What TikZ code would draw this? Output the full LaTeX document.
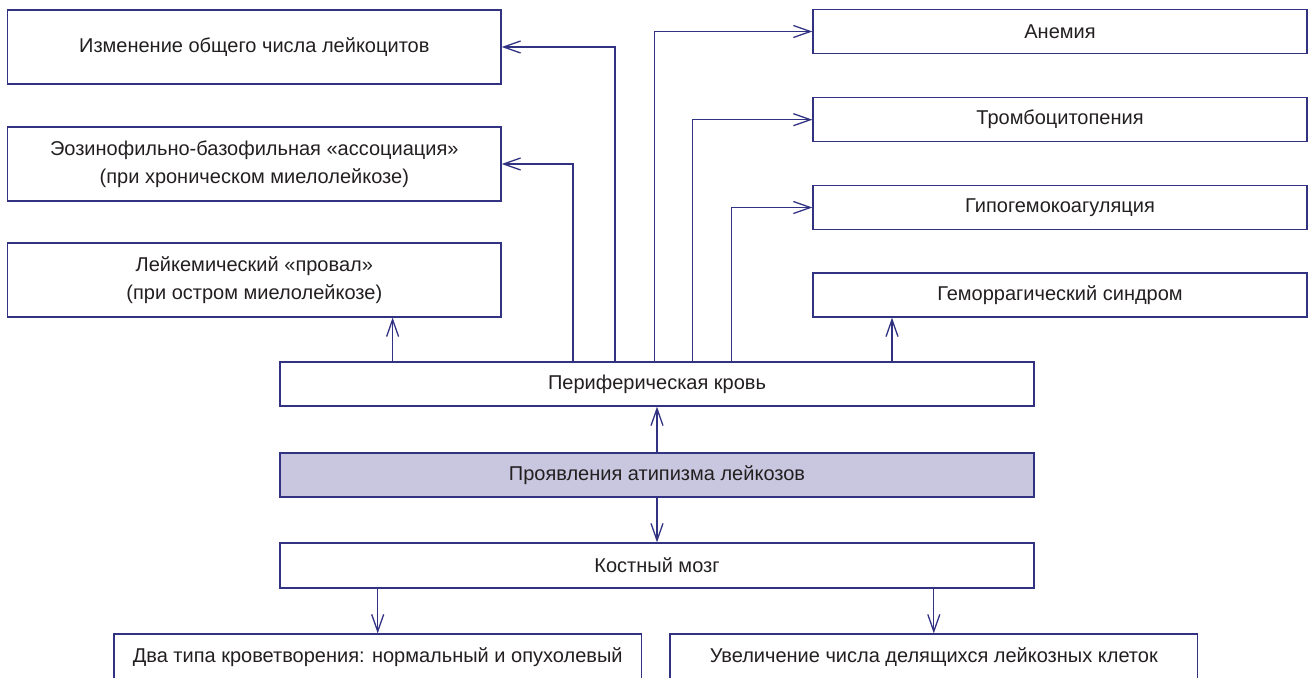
\documentclass[tikz,border=0pt]{standalone}
\usepackage{fontspec}
\setmainfont{Liberation Sans}
\usetikzlibrary{arrows.meta}
\definecolor{navy}{RGB}{50,50,130}
\definecolor{lav}{RGB}{201,199,223}
\definecolor{txt}{RGB}{35,31,32}
\begin{document}
\begin{tikzpicture}[x=1pt,y=-1pt,
  box/.style={draw=navy,line width=1.3pt,rectangle,inner sep=0pt,align=center,text=txt,
    font=\fontsize{20}{28}\selectfont},
  lbox/.style={box,minimum width=493.4pt,minimum height=74pt},
  rbox/.style={box,minimum width=494pt,minimum height=44pt},
  cbox/.style={box,minimum width=754pt,minimum height=44pt},
  bbox/.style={box,minimum width=527.6pt,minimum height=46pt},
  arr/.style={draw=navy,line width=1.3pt,-{Straight Barb[length=17pt,width=12pt]}}]
\useasboundingbox (0,0) rectangle (1313,677);
\clip (0,0) rectangle (1313,677);
% left column
\node[lbox] (b1) at (254.3,47) {Изменение общего числа лейкоцитов};
\node[lbox] (b2) at (254.3,164) {Эозинофильно-базофильная «ассоциация»\\(при хроническом миелолейкозе)};
\node[lbox] (b3) at (254.3,280) {Лейкемический «провал»\\(при остром миелолейкозе)};
% right column
\node[rbox] (r1) at (1060,31.5) {Анемия};
\node[rbox] (r2) at (1060,119.7) {Тромбоцитопения};
\node[rbox] (r3) at (1060,207.5) {Гипогемокоагуляция};
\node[rbox] (r4) at (1060,295) {Геморрагический синдром};
% center column
\node[cbox] (perif) at (657,384) {Периферическая кровь};
\node[cbox,fill=lav] (proy) at (657,475) {Проявления атипизма лейкозов};
\node[cbox,minimum height=45pt] (kost) at (657,565.5) {Костный мозг};
% bottom
\node[bbox] (d1) at (377.7,657) {Два типа кроветворения: нормальный и опухолевый};
\node[bbox] (d2) at (933.8,657) {Увеличение числа делящихся лейкозных клеток};
% connectors from peripheral blood
\draw[arr] ([xshift=-42pt]perif.north) |- (b1.east);
\draw[arr] ([xshift=-84pt]perif.north) |- (b2.east);
\draw[arr] ([xshift=-264.4pt]perif.north) -- ([xshift=-264.4pt]perif.north |- b3.south);
\draw[arr] ([xshift=-2.7pt]perif.north) |- (r1.west);
\draw[arr] ([xshift=35.7pt]perif.north) |- (r2.west);
\draw[arr] ([xshift=74.7pt]perif.north) |- (r3.west);
\draw[arr] ([xshift=235pt]perif.north) -- ([xshift=235pt]perif.north |- r4.south);
% central
\draw[arr] (proy.north) -- (perif.south);
\draw[arr] (proy.south) -- (kost.north);
\draw[arr] (kost.south -| d1.north) -- (d1.north);
\draw[arr] (kost.south -| d2.north) -- (d2.north);
\end{tikzpicture}
\end{document}
